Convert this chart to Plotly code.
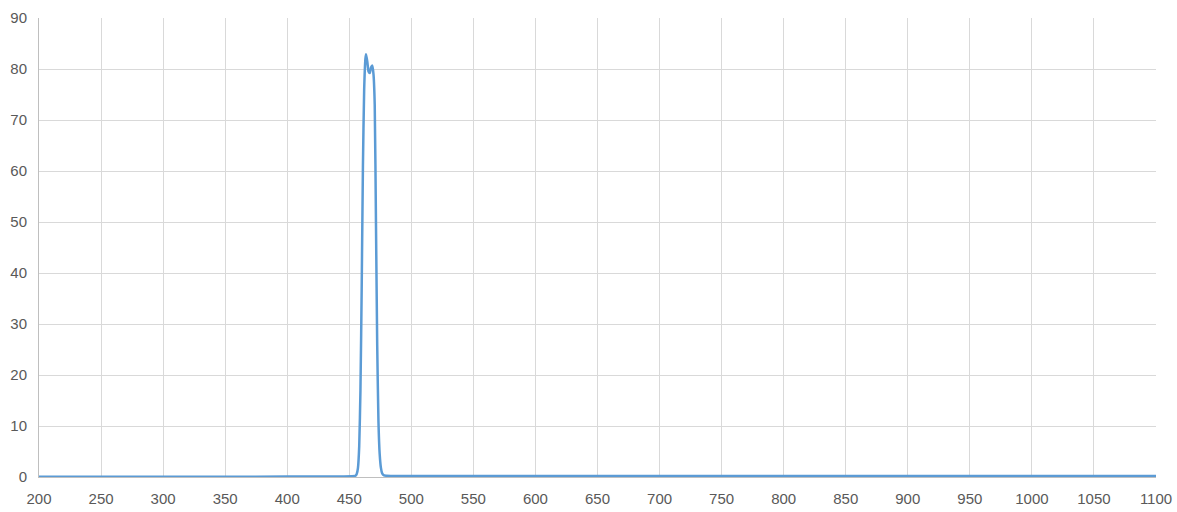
import plotly.graph_objects as go

# Transmission spectrum (wavelength in nm, value in %)
wavelength = [200, 250, 300, 350, 400, 430, 445, 452, 455, 456, 457, 458, 459, 460,
              461, 462, 463, 463.5, 464.5, 465.5, 466.5, 467.5, 468.5, 469.5,
              470.5, 471.5, 472.5, 473.5, 474.5, 475.5, 476.5, 478, 480, 490,
              500, 550, 600, 700, 800, 900, 1000, 1100]
transmission = [0.05, 0.05, 0.05, 0.05, 0.08, 0.1, 0.12, 0.15, 0.25, 0.6, 1.8, 6, 17, 37,
                61, 76, 82, 82.9, 81.5, 79.5, 79.2, 80.3, 80.7, 79,
                73, 50, 26, 11, 4.5, 1.8, 0.7, 0.3, 0.25, 0.2,
                0.2, 0.2, 0.2, 0.2, 0.2, 0.2, 0.2, 0.2]

x_ticks = list(range(200, 1101, 50))
y_ticks = list(range(0, 91, 10))

fig = go.Figure()
fig.add_trace(go.Scatter(
    x=wavelength,
    y=transmission,
    mode="lines",
    line=dict(color="#5b9bd5", width=2.5, shape="spline", smoothing=0.5),
    showlegend=False,
))

axis_font = dict(family="Liberation Sans, Arial, sans-serif", size=15, color="#595959")

fig.update_layout(
    width=1177,
    height=512,
    margin=dict(l=39, r=21, t=18, b=35),
    paper_bgcolor="white",
    plot_bgcolor="white",
    xaxis=dict(
        range=[200, 1100],
        tickvals=x_ticks,
        showgrid=True,
        gridcolor="#d9d9d9",
        gridwidth=1,
        showline=True,
        linecolor="#bfbfbf",
        linewidth=1,
        zeroline=False,
        ticks="",
        ticklabelstandoff=8,
        tickfont=axis_font,
        automargin=False,
    ),
    yaxis=dict(
        range=[0, 90],
        tickvals=y_ticks,
        showgrid=True,
        gridcolor="#d9d9d9",
        gridwidth=1,
        showline=True,
        linecolor="#bfbfbf",
        linewidth=1,
        zeroline=False,
        ticks="",
        ticklabelstandoff=8,
        tickfont=axis_font,
        automargin=False,
    ),
)

# drop the default page margin so the figure sits at the window's corner
fig.write_html("out.html", config={"displayModeBar": False},
               post_script="document.body.style.margin='0';")
